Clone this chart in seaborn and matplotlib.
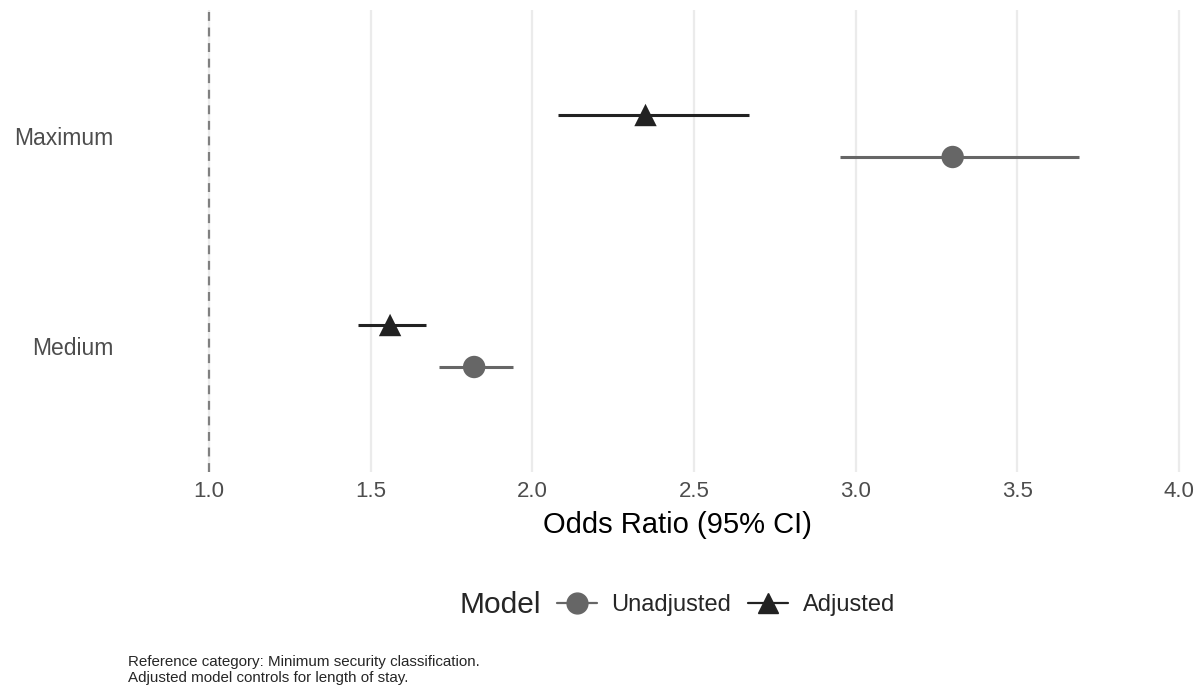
import numpy as np
import pandas as pd
import matplotlib
matplotlib.use("Agg")
import matplotlib.pyplot as plt
from matplotlib.lines import Line2D
import seaborn as sns

categories = ["Medium", "Maximum"]
models = ["Unadjusted", "Adjusted"]
unadj_or = [1.82, 3.30]
unadj_lo = [1.71, 2.95]
unadj_hi = [1.94, 3.69]
adj_or = [1.56, 2.35]
adj_lo = [1.46, 2.08]
adj_hi = [1.67, 2.67]
xticks = [1.0, 1.5, 2.0, 2.5, 3.0, 3.5, 4.0]

rows = []
for i, c in enumerate(categories):
    rows.append(dict(cat=c, model="Unadjusted", OR=unadj_or[i], lo=unadj_lo[i], hi=unadj_hi[i]))
    rows.append(dict(cat=c, model="Adjusted", OR=adj_or[i], lo=adj_lo[i], hi=adj_hi[i]))
df = pd.DataFrame(rows)
dodge = {"Unadjusted": -0.1, "Adjusted": 0.1}
df["y"] = df["cat"].map({c: i + 1 for i, c in enumerate(categories)}) + df["model"].map(dodge)

sns.set_theme(style="whitegrid")
plt.rcParams["font.family"] = ["Liberation Sans", "DejaVu Sans"]

colors = {"Unadjusted": "#666666", "Adjusted": "#222222"}
markers = {"Unadjusted": "o", "Adjusted": "^"}

W, H = 1197, 694
fig = plt.figure(figsize=(W / 100, H / 100), dpi=100)
L, R, T, B = 160, 1194, 10, 472
ax = fig.add_axes([L / W, 1 - B / H, (R - L) / W, (B - T) / H])

ax.axvline(1.0, color="#808080", ls=(0, (4, 3)), lw=1.6, zorder=1)
for m in models:
    d = df[df["model"] == m]
    ax.hlines(d["y"], d["lo"], d["hi"], color=colors[m], lw=2.2, zorder=2)
sns.scatterplot(data=df, x="OR", y="y", hue="model", style="model",
                palette=colors, markers=markers, s=260, edgecolor="none",
                legend=False, ax=ax, zorder=3)

ax.set_xlim(0.8484, 4.0464)
ax.set_ylim(0.4, 2.6)
ax.set_xticks(xticks)
ax.set_xticklabels([f"{t:.1f}" for t in xticks], fontsize=16, color="#4D4D4D")
ax.set_yticks([1, 2])
ax.set_yticklabels(categories, fontsize=16.5, color="#4D4D4D")
ax.tick_params(axis="x", length=0, pad=6.5)
ax.tick_params(axis="y", length=0, pad=(L - 113) * 0.72)
ax.grid(axis="x", color="#EBEBEB", lw=1.6)
ax.grid(axis="y", visible=False)
for s in ax.spines.values():
    s.set_visible(False)
ax.set_facecolor("white")
ax.set_xlabel("Odds Ratio (95% CI)", fontsize=21, color="black", labelpad=6.5)
ax.set_ylabel("")

fig.text(459 / W, 1 - 605 / H, "Model", fontsize=21.5, ha="left", va="center")
handles = [Line2D([0], [0], color=colors[m], marker=markers[m], markersize=15, lw=1.6)
           for m in models]
leg = fig.legend(handles, models, loc="center left", ncol=2,
                 bbox_to_anchor=(557 / W, 1 - 605 / H), frameon=False,
                 fontsize=17, handlelength=1.7, columnspacing=0.72,
                 handletextpad=0.6, borderpad=0, borderaxespad=0)

fig.text(128 / W, 1 - 670 / H,
         "Reference category: Minimum security classification.\nAdjusted model controls for length of stay.",
         fontsize=10.9, va="center", ha="left", linespacing=1.22)

fig.savefig("out.png", dpi=100, facecolor="white")
